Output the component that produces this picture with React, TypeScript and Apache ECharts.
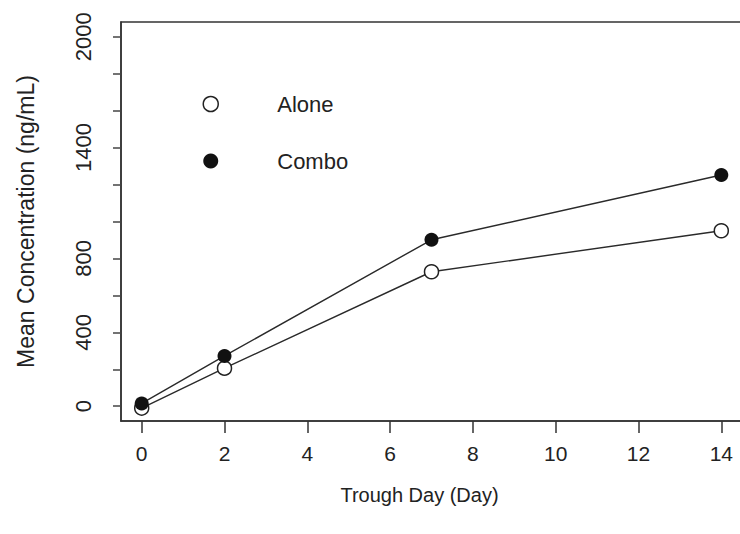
import React, { useEffect, useRef } from "react";
import * as echarts from "echarts";

const days = [0, 2, 7, 14];
const aloneValues = [-10, 206, 728, 950];
const comboValues = [15, 272, 901, 1252];
const xTickValues = [0, 2, 4, 6, 8, 10, 12, 14];
const yTickValues = [0, 200, 400, 600, 800, 1000, 1200, 1400, 1600, 1800, 2000];
const yLabelValues = [0, 400, 800, 1400, 2000];
const seriesNames = ["Alone", "Combo"];

const FONT = "'Liberation Sans', Arial, Helvetica, sans-serif";
const INK = "#222";

export default function App() {
  const ref = useRef<HTMLDivElement>(null);

  useEffect(() => {
    if (!ref.current) return;
    const chart = echarts.init(ref.current, null, { renderer: "svg" });
    const textBase = { fontFamily: FONT, color: INK };
    chart.setOption({
      animation: false,
      backgroundColor: "#fff",
      grid: {
        left: 121,
        top: 22,
        right: -2,
        bottom: 113,
        show: true,
        borderColor: "#333",
        borderWidth: 1.5,
        outerBoundsMode: "none",
      },
      legend: {
        orient: "vertical",
        left: 197.5,
        top: 88,
        itemWidth: 15,
        itemHeight: 15,
        itemGap: 35,
        selectedMode: false,
        textStyle: { ...textBase, fontSize: 22, padding: [0, 0, 0, 54] },
        data: [
          {
            name: seriesNames[0],
            icon: "circle",
            itemStyle: { color: "#fff", borderColor: INK, borderWidth: 1.5 },
          },
          { name: seriesNames[1], icon: "circle", itemStyle: { color: "#111", borderWidth: 0 } },
        ],
      },
      xAxis: {
        type: "value",
        min: -0.5,
        max: 14.5,
        name: "Trough Day (Day)",
        nameLocation: "middle",
        nameGap: 64,
        nameTextStyle: { ...textBase, fontSize: 20, padding: [0, 24, 0, 0] },
        axisLine: { show: true, onZero: false, lineStyle: { color: "#333", width: 1.5 } },
        axisTick: { show: true, length: 12, customValues: xTickValues, lineStyle: { color: "#333", width: 1.5 } },
        axisLabel: { ...textBase, fontSize: 21, margin: 22, customValues: xTickValues, formatter: (v: number) => String(v) },
        splitLine: { show: false },
      },
      yAxis: {
        type: "value",
        min: -80,
        max: 2080,
        name: "Mean Concentration (ng/mL)",
        nameLocation: "middle",
        nameRotate: 90,
        nameGap: 84,
        nameTextStyle: { ...textBase, fontSize: 23 },
        axisLine: { show: true, onZero: false, lineStyle: { color: "#333", width: 1.5 } },
        axisTick: { show: true, length: 8, customValues: yTickValues, lineStyle: { color: "#444", width: 1.5 } },
        axisLabel: {
          ...textBase,
          fontSize: 22,
          margin: 27,
          rotate: 90,
          customValues: yLabelValues,
          formatter: (v: number) => String(v),
        },
        splitLine: { show: false },
      },
      series: [
        {
          name: seriesNames[0],
          type: "line",
          data: days.map((d, i) => [d, aloneValues[i]]),
          symbol: "circle",
          symbolSize: 14,
          showAllSymbol: true,
          silent: true,
          itemStyle: { color: "#fff", borderColor: INK, borderWidth: 1.5 },
          lineStyle: { color: "#2a2a2a", width: 1.4 },
          emphasis: { disabled: true },
        },
        {
          name: seriesNames[1],
          type: "line",
          data: days.map((d, i) => [d, comboValues[i]]),
          symbol: "circle",
          symbolSize: 14,
          showAllSymbol: true,
          silent: true,
          itemStyle: { color: "#111", borderWidth: 0 },
          lineStyle: { color: "#2a2a2a", width: 1.4 },
          emphasis: { disabled: true },
        },
      ],
    });
    return () => chart.dispose();
  }, []);

  return (
    <div
      ref={ref}
      style={{ position: "absolute", left: 0, top: 0, width: 740, height: 534, background: "#fff" }}
    />
  );
}
